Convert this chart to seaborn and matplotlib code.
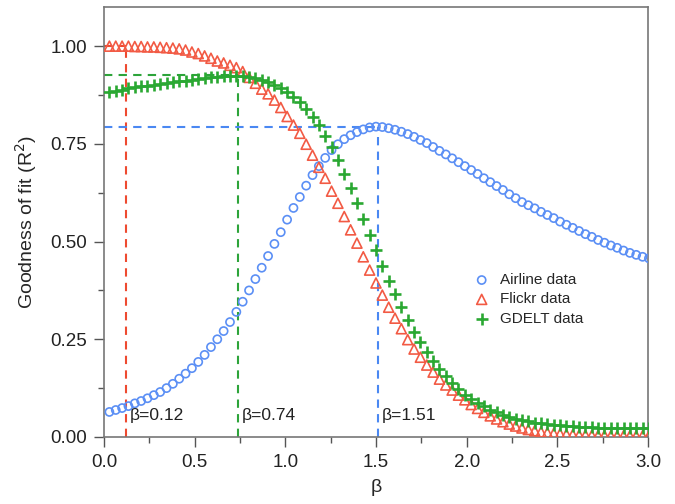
import numpy as np
import pandas as pd
import matplotlib
matplotlib.use("Agg")
import matplotlib.pyplot as plt
import seaborn as sns
from matplotlib.ticker import MultipleLocator

# beta grid (step 0.035 starting at 0.03)
beta = np.round(0.03 + 0.035 * np.arange(86), 3)

airline = [0.064, 0.069, 0.074, 0.079, 0.086, 0.092, 0.099, 0.107, 0.115, 0.125,
           0.136, 0.149, 0.162, 0.176, 0.192, 0.210, 0.230, 0.250, 0.271, 0.294,
           0.320, 0.346, 0.375, 0.404, 0.433, 0.463, 0.494, 0.524, 0.556, 0.586,
           0.614, 0.643, 0.670, 0.693, 0.714, 0.734, 0.749, 0.762, 0.772, 0.780,
           0.787, 0.792, 0.794, 0.793, 0.790, 0.786, 0.781, 0.775, 0.768, 0.760,
           0.752, 0.742, 0.732, 0.723, 0.713, 0.703, 0.693, 0.683, 0.673, 0.662,
           0.652, 0.642, 0.632, 0.621, 0.611, 0.601, 0.593, 0.585, 0.576, 0.568,
           0.560, 0.551, 0.543, 0.535, 0.527, 0.519, 0.512, 0.504, 0.497, 0.490,
           0.484, 0.477, 0.471, 0.466, 0.461, 0.457]

flickr = [1.000, 1.000, 1.000, 1.000, 0.999, 0.999, 0.998, 0.998, 0.997, 0.996,
          0.995, 0.993, 0.990, 0.985, 0.981, 0.975, 0.969, 0.962, 0.957, 0.951,
          0.945, 0.935, 0.920, 0.905, 0.890, 0.878, 0.862, 0.843, 0.820, 0.798,
          0.777, 0.749, 0.721, 0.690, 0.662, 0.629, 0.598, 0.564, 0.530, 0.496,
          0.461, 0.427, 0.394, 0.363, 0.332, 0.304, 0.277, 0.249, 0.225, 0.204,
          0.184, 0.166, 0.148, 0.133, 0.120, 0.107, 0.095, 0.083, 0.073, 0.063,
          0.054, 0.046, 0.039, 0.033, 0.028, 0.023, 0.019, 0.016, 0.013, 0.011,
          0.009, 0.008, 0.007, 0.006, 0.005, 0.005, 0.004, 0.004, 0.004, 0.003,
          0.003, 0.003, 0.003, 0.003, 0.003, 0.003]

gdelt = [0.883, 0.886, 0.889, 0.892, 0.895, 0.897, 0.899, 0.901, 0.904, 0.906,
         0.908, 0.910, 0.912, 0.914, 0.917, 0.919, 0.921, 0.922, 0.923, 0.924,
         0.924, 0.923, 0.921, 0.918, 0.914, 0.907, 0.900, 0.892, 0.882, 0.870,
         0.857, 0.840, 0.818, 0.797, 0.771, 0.742, 0.708, 0.673, 0.636, 0.598,
         0.558, 0.517, 0.478, 0.437, 0.400, 0.366, 0.333, 0.300, 0.269, 0.243,
         0.217, 0.195, 0.175, 0.156, 0.138, 0.122, 0.108, 0.097, 0.087, 0.078,
         0.070, 0.063, 0.057, 0.052, 0.047, 0.043, 0.040, 0.037, 0.035, 0.033,
         0.031, 0.030, 0.028, 0.027, 0.026, 0.025, 0.025, 0.024, 0.024, 0.023,
         0.023, 0.023, 0.022, 0.022, 0.022, 0.022]

# best beta for each dataset and its R^2
best_beta = [0.12, 0.74, 1.51]
best_r2 = [1.00, 0.925, 0.793]
best_labels = ["β=0.12", "β=0.74", "β=1.51"]

c_blue = "#5B8FF5"
c_red = "#F25A44"
c_green = "#2AA832"
line_cols = ["#EE4A30", "#2DA43A", "#4A88F2"]

sns.set_style("ticks")
plt.rcParams["font.family"] = ["Liberation Sans", "DejaVu Sans"]

fig = plt.figure(figsize=(6.75, 5.04), dpi=100)
ax = fig.add_axes([0.154, 0.133, 0.806, 0.853])

# dashed guide lines
for b, r, col in zip(best_beta, best_r2, line_cols):
    ax.plot([b, b], [0, r], ls=(0, (4, 3)), color=col, lw=1.5, zorder=1)
    ax.plot([0, b], [r, r], ls=(0, (4, 3)), color=col, lw=1.5, zorder=1)

sns.scatterplot(x=beta, y=airline, marker="o", s=34, facecolor="none",
                edgecolor=c_blue, linewidth=1.2, label="Airline data", ax=ax, zorder=3)
sns.scatterplot(x=beta, y=flickr, marker="^", s=52, facecolor="none",
                edgecolor=c_red, linewidth=1.2, label="Flickr data", ax=ax, zorder=3)
sns.scatterplot(x=beta, y=gdelt, marker="+", s=85, color=c_green,
                linewidth=1.9, label="GDELT data", ax=ax, zorder=3)

for b, txt in zip(best_beta, best_labels):
    ax.text(b + 0.02, 0.055, txt, fontsize=12.5, color="#222222", ha="left", va="center")

ax.set_xlim(0, 3.0)
ax.set_ylim(0, 1.1)
ax.xaxis.set_minor_locator(MultipleLocator(0.25))
ax.yaxis.set_minor_locator(MultipleLocator(0.125))
ax.set_xticks([0, 0.5, 1.0, 1.5, 2.0, 2.5, 3.0])
ax.set_xticklabels(["0.0", "0.5", "1.0", "1.5", "2.0", "2.5", "3.0"])
ax.set_yticks([0, 0.25, 0.5, 0.75, 1.0])
ax.set_yticklabels(["0.00", "0.25", "0.50", "0.75", "1.00"])
ax.tick_params(which="major", length=7, width=1, color="#555555", labelsize=13.5,
               labelcolor="#222222", pad=5)
ax.tick_params(which="minor", length=4, width=1, color="#555555")
for sp in ax.spines.values():
    sp.set_color("#777777")
    sp.set_linewidth(1.2)

ax.set_xlabel("β", fontsize=14, labelpad=6)
ax.set_ylabel("Goodness of fit (R$^2$)", fontsize=14, labelpad=8)

ax.legend(loc="center left", bbox_to_anchor=(0.655, 0.32), frameon=False,
          fontsize=11, handletextpad=0.2, labelspacing=0.35, borderaxespad=0)

fig.savefig("out.png", dpi=100)
